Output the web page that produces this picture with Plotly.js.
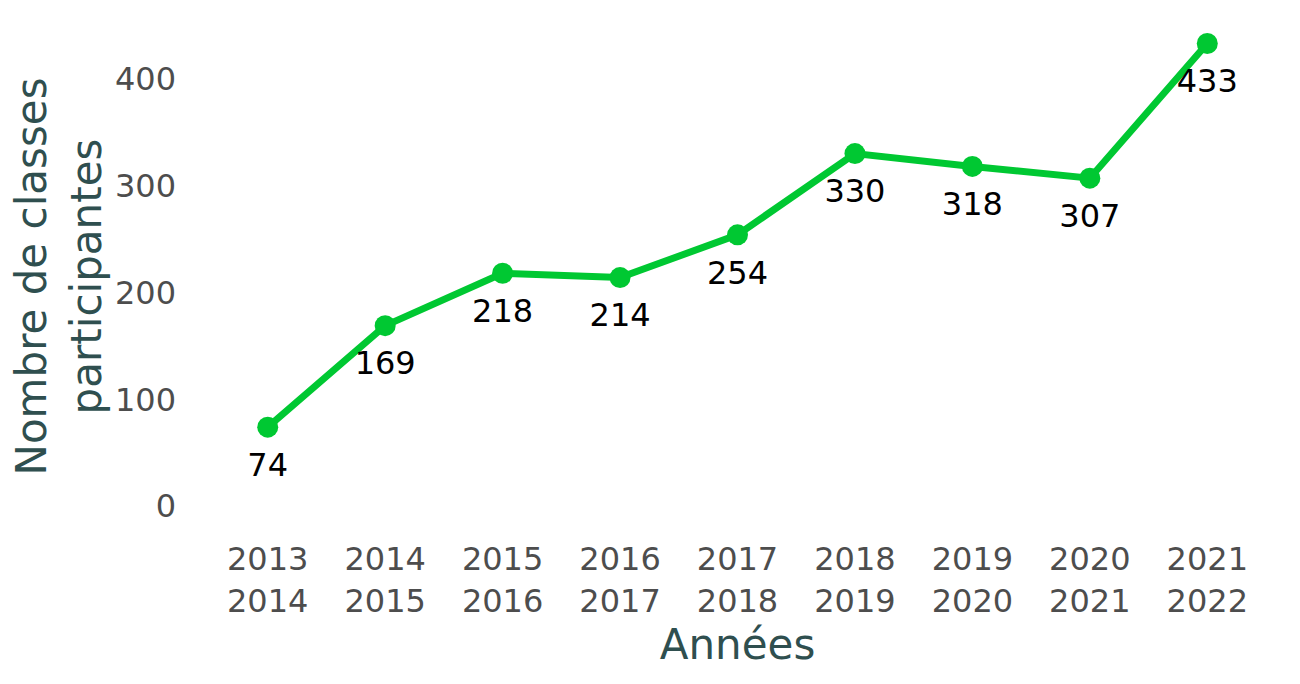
<!DOCTYPE html>
<html><head><meta charset="utf-8">
<script src="https://cdn.plot.ly/plotly-3.0.1.min.js"></script>
<style>html,body{margin:0;padding:0;background:#fff;}#chart{width:1300px;height:684px;}</style>
</head><body><div id="chart"></div>
<script>
var categories = ["2013<br>2014","2014<br>2015","2015<br>2016","2016<br>2017","2017<br>2018","2018<br>2019","2019<br>2020","2020<br>2021","2021<br>2022"];
var classes = [74,169,218,214,254,330,318,307,433];
var yTicks = [0,100,200,300,400];

var lineTrace = {
  x: categories, y: classes, type: 'scatter', mode: 'lines+markers',
  line: {color: '#00C832', width: 7},
  marker: {color: '#00C832', size: 21},
  cliponaxis: false, hoverinfo: 'none'
};
var labelTrace = {
  x: categories, y: classes, type: 'scatter', mode: 'markers+text',
  marker: {color: 'rgba(0,0,0,0)', size: 38},
  text: classes.map(String), textposition: 'bottom center',
  textfont: {family: 'DejaVu Sans', size: 32, color: '#000000'},
  cliponaxis: false, hoverinfo: 'none'
};
var layout = {
  width: 1300, height: 684,
  margin: {l: 209, r: 34, t: 20, b: 151},
  paper_bgcolor: '#fff', plot_bgcolor: '#fff',
  showlegend: false,
  font: {family: 'DejaVu Sans'},
  xaxis: {type: 'category', range: [-0.5, 8.5], showgrid: false, zeroline: false, showline: false, ticks: '',
    ticklabelstandoff: 4,
    tickfont: {family: 'DejaVu Sans', size: 32, color: '#4D4D4D'},
    title: {text: 'Années', font: {family: 'DejaVu Sans', size: 42, color: '#2F4F4F'}, standoff: 7}},
  yaxis: {range: [-25, 455], tickvals: yTicks, showgrid: false, zeroline: false, showline: false, ticks: '',
    ticklabelstandoff: 32,
    tickfont: {family: 'DejaVu Sans', size: 32, color: '#4D4D4D'},
    title: {text: 'Nombre de classes<br>participantes', font: {family: 'DejaVu Sans', size: 42, color: '#2F4F4F'}, standoff: 0}}
};
Plotly.newPlot('chart', [lineTrace, labelTrace], layout, {displayModeBar: false, staticPlot: true});
</script></body></html>
